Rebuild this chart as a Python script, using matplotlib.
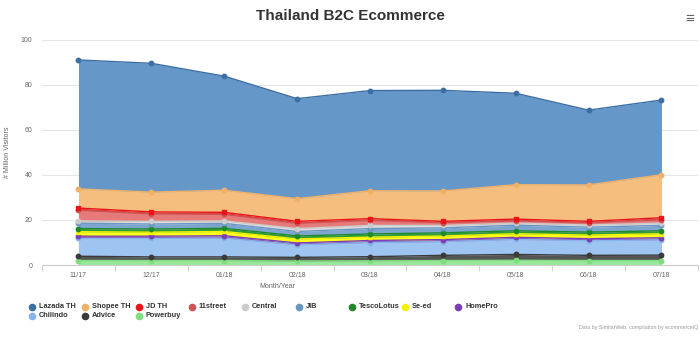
import numpy as np
import matplotlib
matplotlib.use("Agg")
import matplotlib.pyplot as plt
from matplotlib.lines import Line2D

plt.rcParams["font.family"] = ["Liberation Sans", "DejaVu Sans"]

# Data (million visitors)
months = ["11/17", "12/17", "01/18", "02/18", "03/18", "04/18", "05/18", "06/18", "07/18"]

lazada = [57.3, 57.2, 50.7, 44.4, 44.5, 44.7, 40.6, 33.2, 33.2]
shopee = [8.5, 8.8, 9.8, 10.1, 12.4, 13.5, 15.3, 16.2, 19.1]
jd = [1.0, 0.9, 0.9, 0.9, 0.8, 0.6, 0.8, 0.7, 0.9]
street11 = [4.7, 3.3, 2.9, 2.3, 2.2, 1.2, 1.0, 0.9, 1.5]
central = [1.0, 1.2, 1.1, 1.3, 1.4, 1.1, 0.9, 1.0, 1.0]
jib = [2.4, 2.2, 2.2, 2.0, 2.4, 2.2, 2.5, 2.2, 2.4]
tesco = [1.4, 1.4, 1.4, 1.3, 1.4, 1.4, 1.3, 1.3, 1.3]
seed = [2.0, 1.8, 1.9, 1.8, 1.5, 1.6, 1.6, 1.6, 1.8]
homepro = [1.0, 1.0, 1.0, 0.8, 0.9, 0.9, 0.9, 0.9, 0.9]
chilindo = [7.9, 8.2, 8.4, 5.6, 6.3, 6.1, 6.7, 6.5, 6.8]
advice = [1.9, 1.6, 1.6, 1.6, 1.8, 2.3, 2.6, 2.3, 2.4]
powerbuy = [2.0, 2.0, 2.0, 1.8, 1.9, 2.0, 2.1, 2.0, 2.0]

# name, values, line colour, fill colour, marker
series = [
    ("Lazada TH", lazada, "#3d6fa5", "#6598c9", "o"),
    ("Shopee TH", shopee, "#f0b066", "#f5be7e", "o"),
    ("JD TH", jd, "#e8141a", "#e23b3b", "s"),
    ("11street", street11, "#cc5555", "#e57a78", "o"),
    ("Central", central, "#cccccc", "#dddddd", "o"),
    ("JIB", jib, "#6a96c2", "#7ca6d0", "o"),
    ("TescoLotus", tesco, "#1f8a2a", "#2e9a3a", "o"),
    ("Se-ed", seed, "#f2f200", "#ffff1a", "s"),
    ("HomePro", homepro, "#7b3fb5", "#8a4fc0", "o"),
    ("Chilindo", chilindo, "#86b4e8", "#9ec5f2", "o"),
    ("Advice", advice, "#3a3a3a", "#555555", "o"),
    ("Powerbuy", powerbuy, "#7fdc7f", "#98e89a", "o"),
]

fig = plt.figure(figsize=(7, 3.37), dpi=100)
ax = fig.add_axes([0.06, 0.2136, 0.937, 0.668])

x = np.arange(len(months))
base = np.zeros(len(months))
# first series sits on top, so stack from the bottom up
for name, vals, lc, fc, mk in reversed(series):
    top = base + np.array(vals)
    ax.fill_between(x, base, top, color=fc, linewidth=0, zorder=2)
    ax.plot(x, top, color=lc, linewidth=1.0, zorder=3)
    ax.plot(x, top, linestyle="none", marker=mk, markersize=3.2,
            color=lc, zorder=4)
    base = top

ax.set_xlim(-0.5, len(months) - 0.5)
ax.set_ylim(0, 100)
ax.set_yticks([0, 20, 40, 60, 80, 100])
ax.set_xticks(x)
ax.set_xticklabels(months)
ax.set_xticks(np.arange(-0.5, len(months), 1), minor=True)
ax.tick_params(axis="x", which="major", length=0, labelsize=5, colors="#666666", pad=5)
ax.tick_params(axis="x", which="minor", length=4, width=0.6, color="#cccccc")
ax.tick_params(axis="y", length=0, labelsize=5, colors="#666666", pad=7)
ax.grid(axis="y", color="#e6e6e6", linewidth=0.8, zorder=0)
ax.set_axisbelow(True)
for s in ["top", "right", "left"]:
    ax.spines[s].set_visible(False)
ax.spines["bottom"].set_color("#cccccc")
ax.spines["bottom"].set_linewidth(0.8)

ax.set_ylabel("# Million Visitors", fontsize=5, color="#666666")
ax.yaxis.set_label_coords(-0.047, 0.5)
fig.text(277 / 700, 1 - 286 / 337, "Month/Year", fontsize=5, color="#666666",
         ha="center", va="center")

fig.text(0.5, 1 - 16 / 337, "Thailand B2C Ecommerce", fontsize=11, fontweight="bold",
         color="#333333", ha="center", va="center")
fig.text(690 / 700, 1 - 19 / 337, "\u2261", fontsize=11, color="#666666",
         ha="center", va="center")

# legend laid out in fixed-width columns like the original
for i, (name, vals, lc, fc, mk) in enumerate(series):
    col, row = i % 9, i // 9
    px = 32 + col * 53.3
    py = 306.5 + row * 9.3
    fig.add_artist(Line2D([px / 700], [1 - py / 337], marker="o", markersize=4.5,
                          color=lc, linestyle="none"))
    fig.text((px + 7) / 700, 1 - py / 337, name, fontsize=5.3, fontweight="bold",
             color="#333333", ha="left", va="center")

fig.text(698 / 700, 1 - 327 / 337, "Data by SimilarWeb, compilation by ecommerceIQ",
         fontsize=3.8, color="#999999", ha="right", va="center")

fig.savefig("out.png", dpi=100)
